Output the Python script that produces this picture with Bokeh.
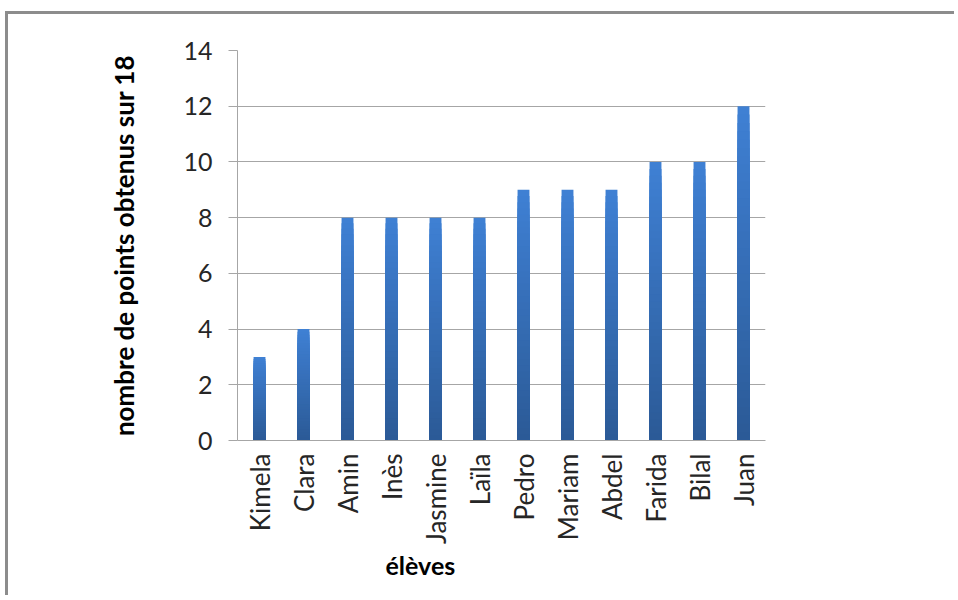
import math
from bokeh.plotting import figure
from bokeh.models import Range1d, FixedTicker, Title
from bokeh.embed import file_html
from bokeh.resources import INLINE

# ---- data ----
eleves = ["Kimela", "Clara", "Amin", "Inès", "Jasmine", "Laïla",
          "Pedro", "Mariam", "Abdel", "Farida", "Bilal", "Juan"]
points = [3, 4, 8, 8, 8, 8, 9, 9, 9, 10, 10, 12]
y_ticks = [0, 2, 4, 6, 8, 10, 12, 14]
y_label = "nombre de points obtenus sur 18"
x_label = "élèves"

FONT = "Lato"
GRAY = "#a6a6a6"

p = figure(x_range=eleves, y_range=Range1d(0, 14),
           width=949, height=584,
           output_backend="svg", toolbar_location=None,
           min_border_left=229, min_border_right=192,
           min_border_top=36, min_border_bottom=158)
p.styles = {"border-top": "3px solid #8c8c8c",
            "border-left": "3px solid #8c8c8c",
            "margin-top": "11px", "margin-left": "5px"}

# gradient bars: light blue at the top, darker at the bottom
N = 40
top_c = (0x3F, 0x80, 0xD4)
bot_c = (0x2B, 0x5A, 0x96)
for k in range(N - 1, -1, -1):
    t = (k + 0.5) / N
    c = tuple(int(round(bot_c[i] + (top_c[i] - bot_c[i]) * t)) for i in range(3))
    col = "#%02x%02x%02x" % c
    tops = [v * (k + 1) / N for v in points]
    p.vbar(x=eleves, top=tops, bottom=0, width=0.27,
           fill_color=col, line_color=None)

p.outline_line_color = None
p.xgrid.grid_line_color = None
p.ygrid.grid_line_color = GRAY
p.ygrid.grid_line_width = 1

p.yaxis.ticker = FixedTicker(ticks=y_ticks)
p.yaxis.minor_tick_line_color = None
p.yaxis.major_tick_in = 0
p.yaxis.major_tick_out = 9
p.yaxis.major_tick_line_color = GRAY
p.yaxis.axis_line_color = GRAY
p.yaxis.major_label_text_font = FONT
p.yaxis.major_label_text_font_size = "25px"
p.yaxis.major_label_text_color = "#262626"
p.yaxis.major_label_standoff = 16
p.yaxis.axis_label = y_label
p.yaxis.axis_label_text_font = FONT
p.yaxis.axis_label_text_font_style = "bold"
p.yaxis.axis_label_text_font_size = "26px"
p.yaxis.axis_label_text_color = "#000000"
p.yaxis.axis_label_standoff = 40

p.xaxis.major_tick_in = 0
p.xaxis.major_tick_out = 0
p.xaxis.minor_tick_line_color = None
p.xaxis.axis_line_color = GRAY
p.xaxis.major_label_orientation = math.pi / 2
p.xaxis.major_label_text_font = FONT
p.xaxis.major_label_text_font_size = "26px"
p.xaxis.major_label_text_color = "#262626"
p.xaxis.major_label_standoff = 13

t = Title(text=x_label, align="left", offset=148,
          text_font=FONT, text_font_style="bold",
          text_font_size="25px", text_color="#000000", standoff=1)
p.add_layout(t, "below")

open("out.html", "w").write(file_html(p, INLINE))
